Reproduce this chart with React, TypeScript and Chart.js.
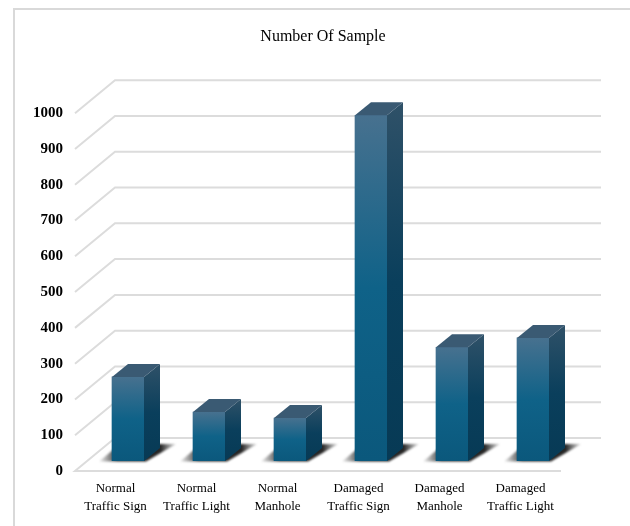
import React, { useEffect, useRef } from "react";
import { Chart, registerables } from "chart.js";

Chart.register(...registerables);

const categories = [
  ["Normal", "Traffic Sign"],
  ["Normal", "Traffic Light"],
  ["Normal", "Manhole"],
  ["Damaged", "Traffic Sign"],
  ["Damaged", "Manhole"],
  ["Damaged", "Traffic Light"],
];
const sampleCounts = [235, 137, 120, 966, 318, 344];

const WALL_DX = 40;
const WALL_DY = 33;
const BAR_SHIFT_X = 12.5;
const BAR_SHIFT_Y = -10;
const BAR_DX = 16;
const BAR_DY = 13;
const GRID = "#dcdcdc";
const SERIF = '"Liberation Serif", "Times New Roman", serif';

function vGradient(ctx: CanvasRenderingContext2D, top: number, bottom: number, stops: string[]) {
  const g = ctx.createLinearGradient(0, top, 0, bottom);
  stops.forEach((c, i) => g.addColorStop(i / (stops.length - 1), c));
  return g;
}

// Floor, back wall and side wall rules, plus the outer frame and bar floor shadows.
const stagePlugin = {
  id: "stage",
  beforeDatasetsDraw(chart: any) {
    const { ctx, chartArea, scales } = chart;
    const { left, right } = chartArea;
    ctx.save();
    ctx.strokeStyle = "#d9d9d9";
    ctx.lineWidth = 2;
    ctx.beginPath();
    ctx.moveTo(14, 526);
    ctx.lineTo(14, 9);
    ctx.lineTo(630, 9);
    ctx.stroke();

    ctx.strokeStyle = GRID;
    ctx.lineWidth = 2;
    for (const t of scales.y.ticks) {
      const y = scales.y.getPixelForValue(t.value);
      ctx.beginPath();
      if (t.value === 0) {
        ctx.moveTo(right, y);
        ctx.lineTo(left, y);
      } else {
        ctx.moveTo(left, y);
      }
      ctx.lineTo(left + WALL_DX, y - WALL_DY);
      ctx.lineTo(right + WALL_DX, y - WALL_DY);
      ctx.stroke();
    }

    ctx.filter = "blur(1px)";
    for (const bar of chart.getDatasetMeta(0).data) {
      const x0 = bar.x - bar.width / 2 + BAR_SHIFT_X;
      const x1 = x0 + bar.width;
      const base = bar.base + BAR_SHIFT_Y;
      const g = ctx.createLinearGradient(x0 - 13, 0, x1 + 32, 0);
      g.addColorStop(0, "rgba(70,70,70,0.1)");
      g.addColorStop(0.24, "rgba(25,25,25,0.9)");
      g.addColorStop(0.8, "rgba(25,25,25,0.95)");
      g.addColorStop(1, "rgba(70,70,70,0.2)");
      ctx.fillStyle = g;
      ctx.beginPath();
      ctx.moveTo(x0 - 13, base + 0.5);
      ctx.lineTo(x1 + 2, base + 0.5);
      ctx.lineTo(x1 + 32, base - 17);
      ctx.lineTo(x0 + 8, base - 17);
      ctx.closePath();
      ctx.fill();
    }
    ctx.restore();
  },
  beforeDatasetDraw(chart: any) {
    chart.ctx.save();
    chart.ctx.translate(BAR_SHIFT_X, BAR_SHIFT_Y);
  },
  afterDatasetDraw(chart: any) {
    chart.ctx.restore();
  },
  // Side and top faces extruded from each drawn bar.
  afterDatasetsDraw(chart: any) {
    const { ctx } = chart;
    ctx.save();
    ctx.translate(BAR_SHIFT_X, BAR_SHIFT_Y);
    for (const bar of chart.getDatasetMeta(0).data) {
      const x0 = bar.x - bar.width / 2;
      const x1 = x0 + bar.width;
      const top = bar.y;
      const base = bar.base;
      ctx.fillStyle = vGradient(ctx, top - BAR_DY, base, ["#2f5168", "#0a3f5c", "#073a55"]);
      ctx.beginPath();
      ctx.moveTo(x1, top);
      ctx.lineTo(x1 + BAR_DX, top - BAR_DY);
      ctx.lineTo(x1 + BAR_DX, base - BAR_DY);
      ctx.lineTo(x1, base);
      ctx.closePath();
      ctx.fill();
      ctx.fillStyle = "#3a5a73";
      ctx.beginPath();
      ctx.moveTo(x0, top);
      ctx.lineTo(x0 + BAR_DX, top - BAR_DY);
      ctx.lineTo(x1 + BAR_DX, top - BAR_DY);
      ctx.lineTo(x1, top);
      ctx.closePath();
      ctx.fill();
    }
    ctx.restore();
  },
};

export default function App() {
  const ref = useRef<HTMLCanvasElement>(null);

  useEffect(() => {
    const chart = new Chart(ref.current as HTMLCanvasElement, {
      type: "bar",
      data: {
        labels: categories,
        datasets: [
          {
            data: sampleCounts,
            yAxisID: "y",
            barThickness: 32,
            backgroundColor: (c: any) => {
              const y = c.chart.scales.y;
              const top = y && typeof c.raw === "number" ? y.getPixelForValue(c.raw) : NaN;
              const bottom = y ? y.getPixelForValue(0) : NaN;
              if (!Number.isFinite(top) || !Number.isFinite(bottom)) return "#0f6288";
              return vGradient(c.chart.ctx, top, bottom, ["#47718f", "#0f6288", "#0b587c"]);
            },
          },
        ],
      },
      options: {
        responsive: false,
        animation: false,
        layout: { padding: { top: 27, right: 0, bottom: 0, left: 16 } },
        plugins: {
          legend: { display: false },
          tooltip: { enabled: false },
          title: {
            display: true,
            text: "Number Of Sample",
            color: "#000",
            font: { family: SERIF, size: 16, weight: "normal" },
            padding: { top: 0, bottom: 67 },
          },
        },
        scales: {
          x: {
            grid: { display: false },
            border: { display: false },
            ticks: {
              color: "#000",
              font: { family: SERIF, size: 13, lineHeight: 1.4 },
              maxRotation: 0,
              autoSkip: false,
              padding: 0,
            },
            afterFit: (s: any) => {
              s.height = 55;
              s.paddingLeft = 0;
              s.paddingRight = 0;
            },
          },
          y: {
            min: 0,
            max: 1000,
            grid: { display: false },
            border: { display: false },
            ticks: {
              stepSize: 100,
              color: "#000",
              font: { family: SERIF, size: 15, weight: "bold" },
              padding: 4,
              callback: (v: any) => String(v),
            },
            afterFit: (s: any) => {
              s.width = 59;
            },
          },
          // Empty right-hand axis that reserves the depth margin beside the plot.
          depthMargin: {
            position: "right",
            min: 0,
            max: 1000,
            grid: { display: false },
            border: { display: false },
            ticks: { display: false },
            afterFit: (s: any) => {
              s.width = 69;
            },
          },
        },
      },
      plugins: [stagePlugin],
    } as any);
    return () => chart.destroy();
  }, []);

  return (
    <div style={{ position: "fixed", left: 0, top: 0, width: 630, height: 526, background: "#fff" }}>
      <canvas ref={ref} width={630} height={526} style={{ display: "block" }} />
    </div>
  );
}
